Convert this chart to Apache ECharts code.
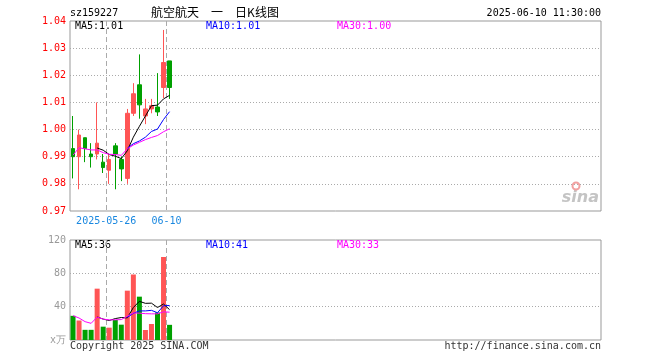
<!DOCTYPE html>
<html><head><meta charset="utf-8">
<script src="https://cdn.jsdelivr.net/npm/echarts@6/dist/echarts.min.js"></script>
<style>html,body{margin:0;padding:0;background:#fff}#c{width:660px;height:360px}</style>
</head><body><div id="c"></div>
<script>
// ---- data ----
const dates = ['2025-05-16','2025-05-19','2025-05-20','2025-05-21','2025-05-22','2025-05-23','2025-05-26','2025-05-27','2025-05-28','2025-05-29','2025-05-30','2025-06-03','2025-06-04','2025-06-05','2025-06-06','2025-06-09','2025-06-10'];
const openP  = [0.993,0.990,0.997,0.991,0.991,0.988,0.985,0.994,0.989,0.982,1.006,1.0165,1.005,1.0076,1.0083,1.0155,1.0253];
const closeP = [0.990,0.998,0.993,0.990,0.995,0.986,0.989,0.991,0.9855,1.006,1.0132,1.0091,1.0076,1.0088,1.0065,1.0247,1.0155];
const lowP   = [0.982,0.978,0.988,0.986,0.989,0.984,0.980,0.978,0.981,0.980,1.005,1.004,1.002,1.006,1.005,1.0116,1.0113];
const highP  = [1.005,1.000,0.997,0.995,1.010,0.991,0.991,0.995,0.990,1.0076,1.0171,1.0277,1.0113,1.0113,1.0208,1.0367,1.0253];
const ma5  = [null,null,null,null,0.9932,0.9924,0.9908,0.9902,0.9893,0.9922,0.9972,1.0012,1.0050,1.0088,1.0090,1.0113,1.0126];
const ma10 = [null,null,null,null,null,null,null,null,null,0.9931,0.9948,0.9958,0.9972,0.9993,1.0002,1.0037,1.0066];
const ma30 = [0.9906,0.9933,0.9929,0.9925,0.9925,0.9915,0.9909,0.9908,0.9905,0.9929,0.9943,0.9953,0.9963,0.9971,0.9978,0.9992,1.0003];
const volume = [29,23.4,12.2,12.2,61.6,16,14.8,24,18.4,59.2,78.6,52,12,19.2,33,99.6,18.2];
const vma5  = [null,null,null,null,27.7,25.1,23.4,25.7,27.0,26.5,39.0,46.4,44.0,44.2,39.0,43.2,36.4];
const vma10 = [null,null,null,null,null,null,null,null,null,27.1,32.0,34.9,34.9,35.6,32.7,41.1,41.4];
const vma30 = [29.2,26.4,22,20,27.5,25,24.2,24.2,24.5,28.5,32.5,32.2,31.6,31.4,31.4,33.8,33.4];
const markedDates = ['2025-05-26','2025-06-10'];
const priceAxis = {min:0.97, max:1.04, step:0.01};
const volAxis = {min:0, max:120, step:40, zeroLabel:'x万'};
const stockCode = 'sz159227';
const chartTitle = '航空航天\u3000一\u3000日K线图';
const stamp = '2025-06-10 11:30:00';

// ---- chart ----
const UP = '#ff5555', DOWN = '#00a000';
const MONO = '"DejaVu Sans Mono", "Liberation Mono", monospace';
const N_SLOTS = 88;
const markIdx = markedDates.map(d => dates.indexOf(d));
const L = 70, W = 531;

const candleData = dates.map((d, i) => [openP[i], closeP[i], lowP[i], highP[i]]);
const volData = volume.map((v, i) => ({value: v, itemStyle: {color: closeP[i] >= openP[i] ? UP : DOWN}}));

function xAxisCfg(gi, showLabels) {
  return {
    type: 'category', gridIndex: gi, data: dates, max: N_SLOTS - 1, boundaryGap: true,
    axisLine: {show: false}, axisTick: {show: false},
    axisLabel: {
      show: showLabels, interval: (i) => markIdx.includes(i),
      formatter: (v, i) => (i === markIdx[0] ? v : String(v).slice(5)),
      color: '#1a88e0', fontFamily: MONO, fontSize: 10, margin: 5, padding: [0, 6, 0, 0]
    },
    splitLine: {show: true, interval: (i) => markIdx.includes(i), showMaxLine: false,
      lineStyle: {color: '#aaaaaa', type: [5, 3], width: 1}}
  };
}
const lastTxt = (arr, d) => arr[arr.length - 1].toFixed(d);

function txt(text, x, y, font, fill, align) {
  return {type: 'text', x: x, y: y, silent: true,
    style: {text: text, font: font, fill: fill, align: align || 'left', textAlign: align || 'left',
      verticalAlign: 'middle', textVerticalAlign: 'middle'}};
}
const F10 = '10px ' + MONO;

const option = {
  animation: false,
  backgroundColor: '#fff',
  grid: [
    {left: L, width: W, top: 21, height: 190, show: true, borderColor: '#999', borderWidth: 1, backgroundColor: 'transparent'},
    {left: L, width: W, top: 240, height: 100, show: true, borderColor: '#999', borderWidth: 1, backgroundColor: 'transparent'}
  ],
  xAxis: [xAxisCfg(0, true), xAxisCfg(1, false)],
  yAxis: [
    {type: 'value', gridIndex: 0, min: priceAxis.min, max: priceAxis.max, interval: priceAxis.step,
      axisLine: {show: false}, axisTick: {show: false},
      axisLabel: {color: '#ff0000', fontFamily: MONO, fontSize: 10, margin: 4, formatter: v => v.toFixed(2)},
      splitLine: {showMinLine: false, showMaxLine: false, lineStyle: {color: '#aaaaaa', type: [1, 2]}}},
    {type: 'value', gridIndex: 1, min: volAxis.min, max: volAxis.max, interval: volAxis.step,
      axisLine: {show: false}, axisTick: {show: false},
      axisLabel: {color: '#999', fontFamily: MONO, fontSize: 10, margin: 4,
        formatter: v => (v === 0 ? volAxis.zeroLabel : String(v))},
      splitLine: {showMinLine: false, showMaxLine: false, lineStyle: {color: '#aaaaaa', type: [1, 2]}}}
  ],
  series: [
    {type: 'candlestick', xAxisIndex: 0, yAxisIndex: 0, data: candleData, barWidth: 4,
      itemStyle: {color: UP, color0: DOWN, borderColor: UP, borderColor0: DOWN, borderWidth: 1}},
    {type: 'line', xAxisIndex: 0, yAxisIndex: 0, data: ma5, symbol: 'none', lineStyle: {color: '#000', width: 1}, z: 5},
    {type: 'line', xAxisIndex: 0, yAxisIndex: 0, data: ma10, symbol: 'none', lineStyle: {color: '#0000ff', width: 1}, z: 5},
    {type: 'line', xAxisIndex: 0, yAxisIndex: 0, data: ma30, symbol: 'none', lineStyle: {color: '#ff00ff', width: 1}, z: 5},
    {type: 'bar', xAxisIndex: 1, yAxisIndex: 1, data: volData, barWidth: 5},
    {type: 'line', xAxisIndex: 1, yAxisIndex: 1, data: vma5, symbol: 'none', lineStyle: {color: '#000', width: 1}, z: 5},
    {type: 'line', xAxisIndex: 1, yAxisIndex: 1, data: vma10, symbol: 'none', lineStyle: {color: '#0000ff', width: 1}, z: 5},
    {type: 'line', xAxisIndex: 1, yAxisIndex: 1, data: vma30, symbol: 'none', lineStyle: {color: '#ff00ff', width: 1}, z: 5}
  ],
  graphic: [
    txt(stockCode, 70, 13, F10, '#000'),
    txt(chartTitle, 215, 12, '12px "Noto Sans CJK SC"', '#000', 'center'),
    txt(stamp, 601, 13, F10, '#000', 'right'),
    txt('MA5:' + lastTxt(ma5, 2), 75, 26, F10, '#000'),
    txt('MA10:' + lastTxt(ma10, 2), 206, 26, F10, '#0000ff'),
    txt('MA30:' + lastTxt(ma30, 2), 337, 26, F10, '#ff00ff'),
    txt('MA5:' + lastTxt(vma5, 0), 75, 245, F10, '#000'),
    txt('MA10:' + lastTxt(vma10, 0), 206, 245, F10, '#0000ff'),
    txt('MA30:' + lastTxt(vma30, 0), 337, 245, F10, '#ff00ff'),
    txt('Copyright 2025 SINA.COM', 70, 346, F10, '#333'),
    txt('http://finance.sina.com.cn', 601, 346, F10, '#333', 'right'),
    txt('sina', 599, 198, 'italic bold 16px "DejaVu Sans"', '#c4c4c4', 'right'),
    {type: 'circle', silent: true, shape: {cx: 576, cy: 186, r: 3.5}, style: {fill: 'none', stroke: '#f2a0a0', lineWidth: 2}}
  ]
};
const chart = echarts.init(document.getElementById('c'));
chart.setOption(option);
</script>
</body></html>
